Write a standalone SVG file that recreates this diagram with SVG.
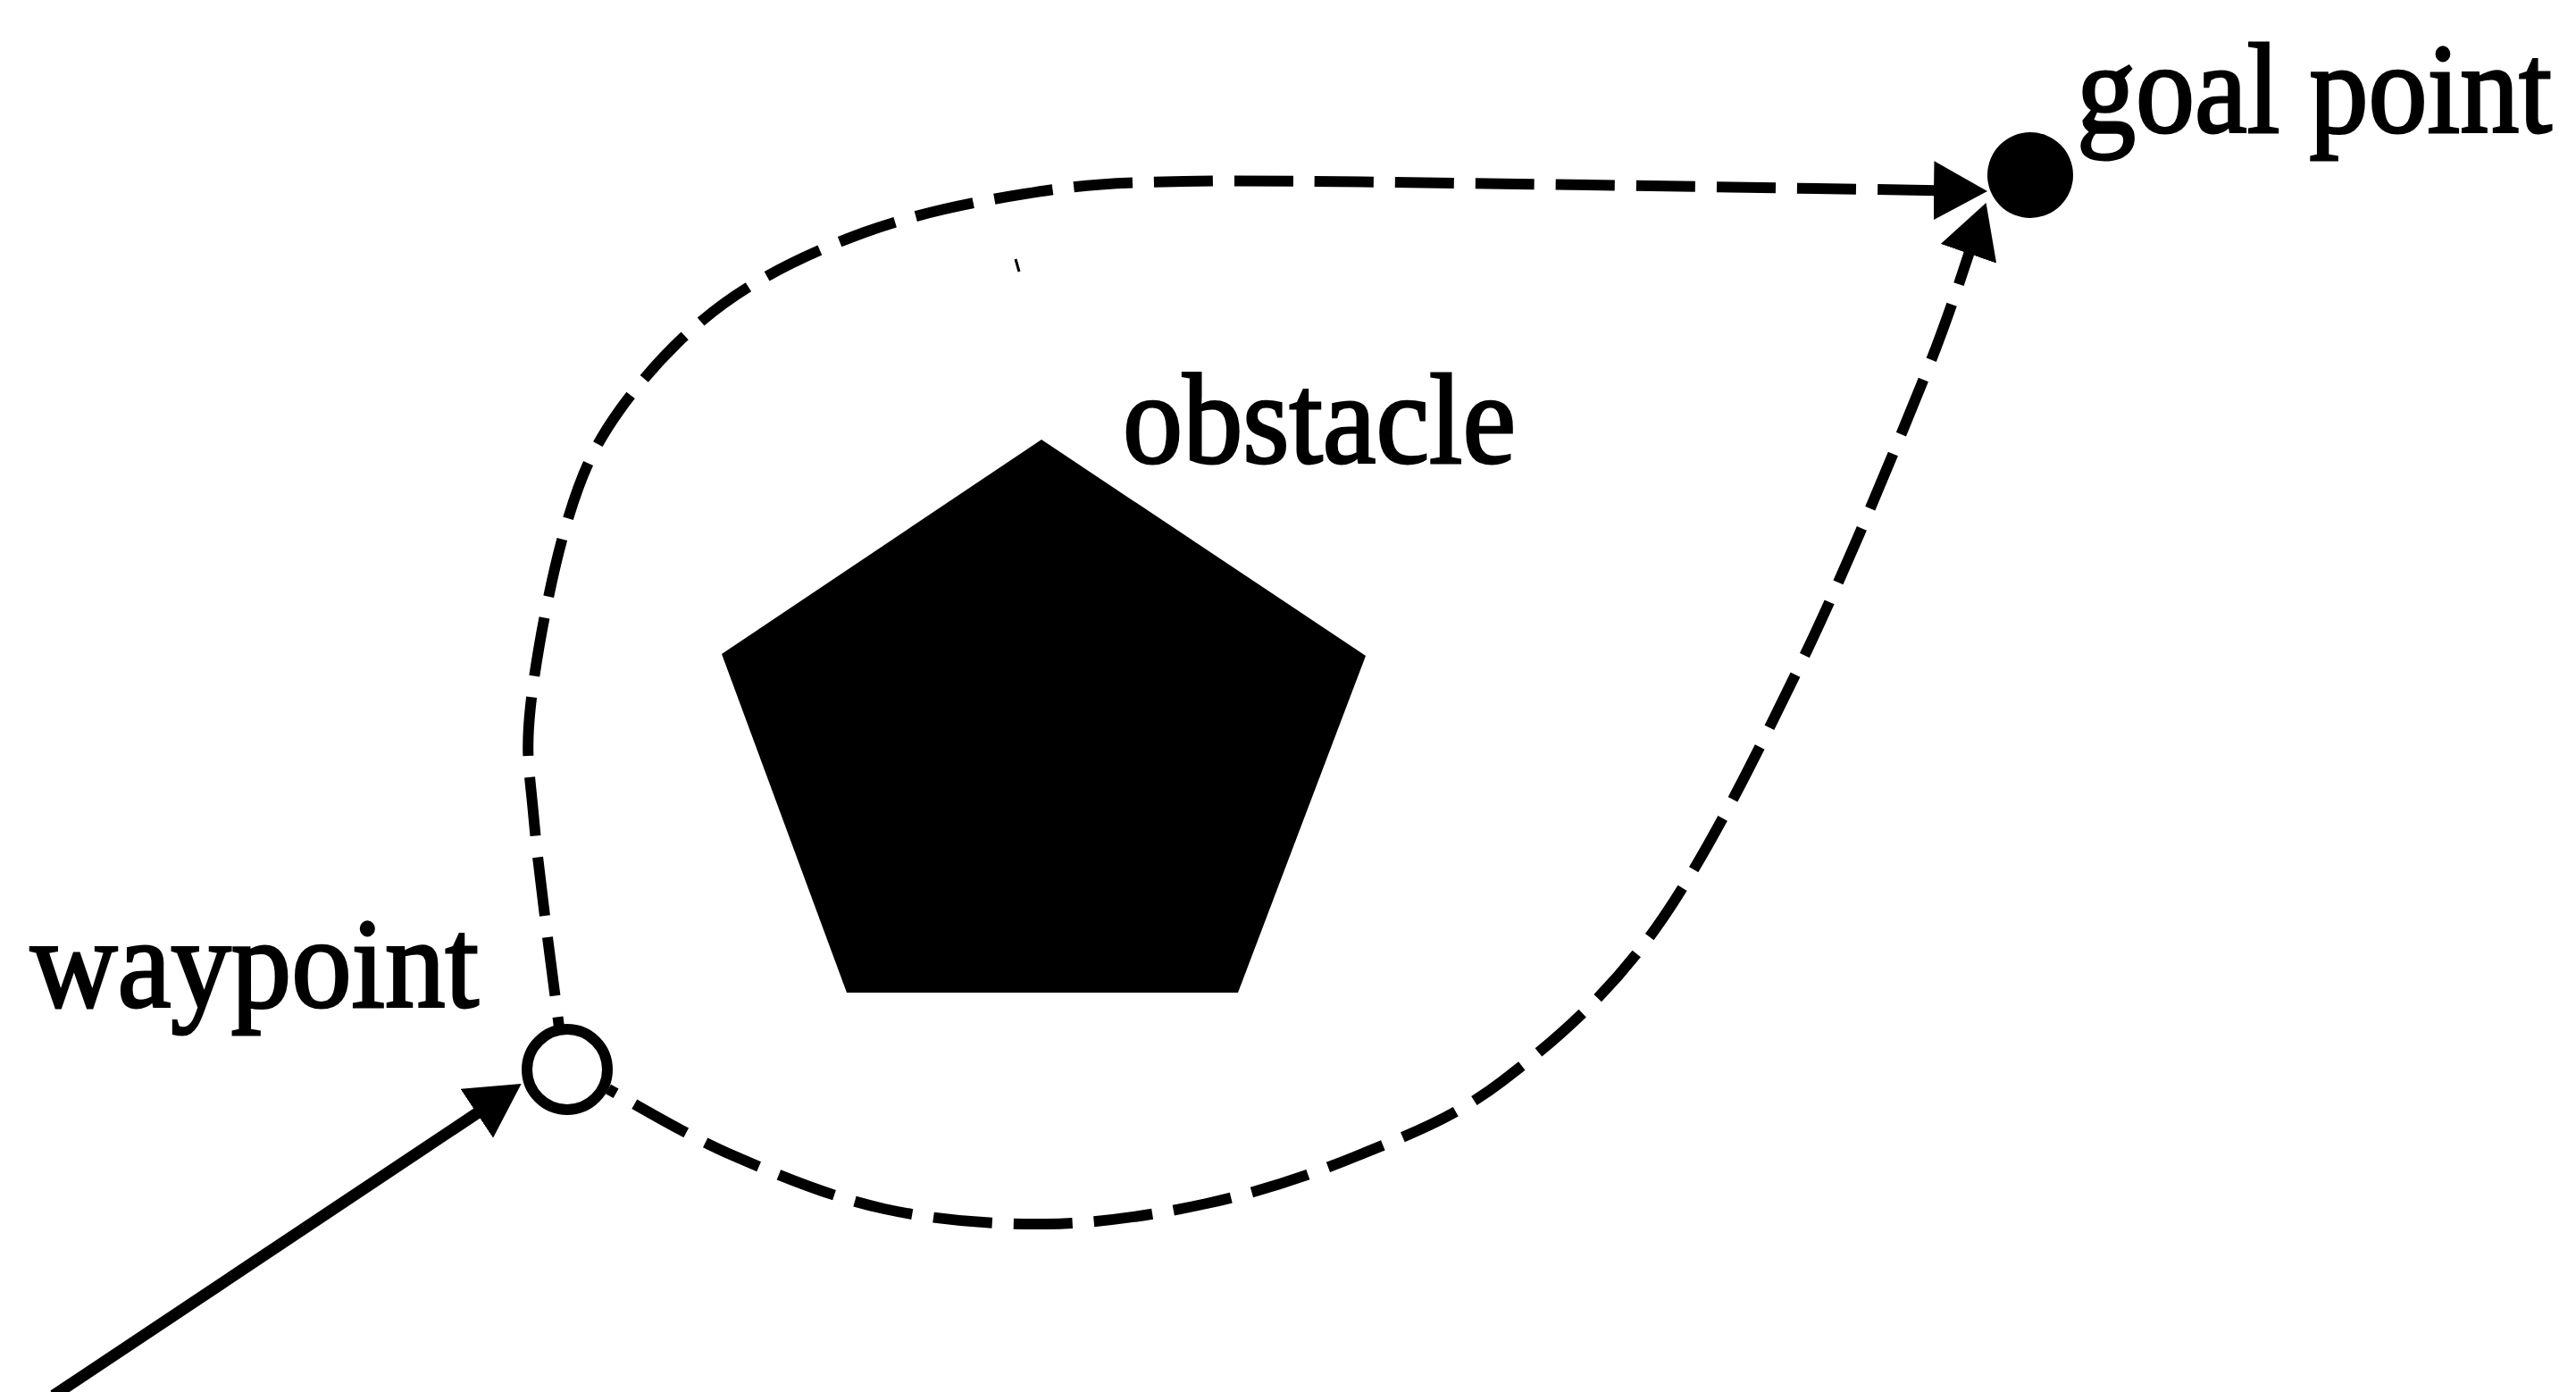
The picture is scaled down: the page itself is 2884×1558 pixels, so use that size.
<svg xmlns="http://www.w3.org/2000/svg" width="2884" height="1558" viewBox="0 0 2884 1558">
  <style>
    .label { font-family: "Liberation Serif", "Times New Roman", serif; font-size: 145px; fill: #000; stroke: #000; stroke-width: 3; }
    .dash { fill: none; stroke: #000; stroke-width: 12; stroke-dasharray: 66 24; }
    .solid { fill: none; stroke: #000; stroke-width: 13; }
  </style>
  <defs>
    <marker id="arrow" viewBox="0 -33 60 66" refX="40" refY="0" markerWidth="60" markerHeight="66" markerUnits="userSpaceOnUse" orient="auto">
      <path d="M0,-33 L60,0 L0,33 z" fill="#000"/>
    </marker>
  </defs>
  <rect x="0" y="0" width="2884" height="1558" fill="#fff"/>

  <g id="connectors">
    <line class="solid" x1="60" y1="1562" x2="567" y2="1224" marker-end="url(#arrow)"/>
    <path id="upper-path" class="dash" stroke-dashoffset="54" marker-end="url(#arrow)"
      d="M626,1150 C621.3,1111.7 603.3,980 598,920 C592.7,860 588,845.5 594,790 C600,734.5 617.5,642 634,587 C650.5,532 663.7,501.2 693,460 C722.3,418.8 764.2,373.3 810,340 C855.8,306.7 911.8,280.5 968,260 C1024.2,239.5 1087.5,226.5 1147,217 C1206.5,207.5 1232.8,204.8 1325,203 C1417.2,201.2 1560.8,204.3 1700,206 C1850,207.8 2120,212.5 2205,213.7"/>
    <path id="lower-path" class="dash" stroke-dashoffset="56" marker-end="url(#arrow)"
      d="M681,1219 C705,1232.2 768.7,1270.8 820,1293 C871.3,1315.2 931.3,1340.2 990,1353 C1048.7,1365.8 1111.8,1371 1172,1370 C1232.2,1369 1292.8,1359.8 1351,1347 C1409.2,1334.2 1465.8,1315.8 1521,1293 C1576.2,1270.2 1626.7,1252.2 1682,1210 C1737.3,1167.8 1797.7,1117.2 1853,1040 C1908.3,962.8 1963,851.8 2014,747 C2065,642.2 2124,497.7 2159,411 C2185,346 2208,272 2217,246"/>
    <line x1="1137" y1="290" x2="1141" y2="304" stroke="#000" stroke-width="3"/>
  </g>

  <g id="node-obstacle">
    <polygon points="1166,492 1529,734 1386,1111 948,1111 808,732" fill="#000"/>
    <text class="label" x="1257" y="518" textLength="440" lengthAdjust="spacingAndGlyphs">obstacle</text>
  </g>

  <g id="node-waypoint">
    <circle cx="635" cy="1197" r="45" fill="#fff" stroke="#000" stroke-width="12"/>
    <text class="label" x="34" y="1127" textLength="502" lengthAdjust="spacingAndGlyphs">waypoint</text>
  </g>

  <g id="node-goal">
    <circle cx="2273" cy="196" r="48" fill="#000"/>
    <text class="label" x="2325" y="148" textLength="532" lengthAdjust="spacingAndGlyphs">goal point</text>
  </g>
</svg>
